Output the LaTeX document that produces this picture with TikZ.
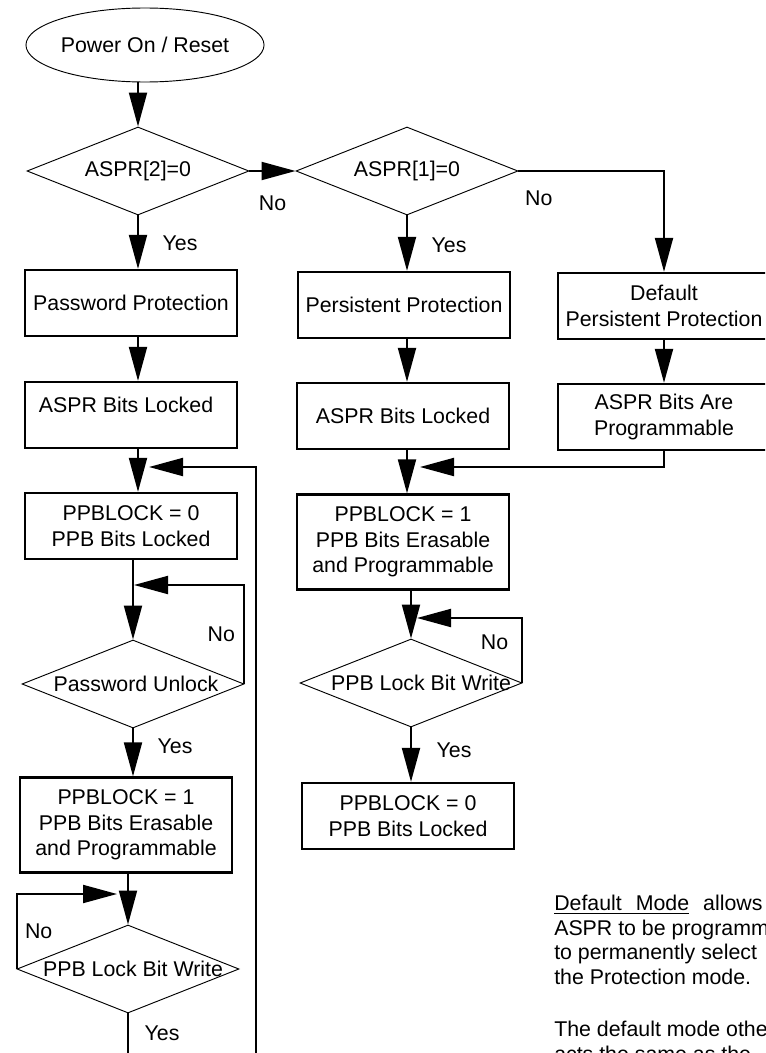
\documentclass[tikz,border=0pt]{standalone}
\usepackage{fontspec}
\setmainfont{Liberation Sans}
\usetikzlibrary{arrows.meta}
\usetikzlibrary{shapes.geometric}

\begin{document}
\begin{tikzpicture}[x=0.75pt,y=-0.75pt,font=\fontsize{16}{19}\selectfont,
    box/.style={draw, line width=1.7pt, minimum width=159pt, minimum height=49.5pt, inner sep=0pt, align=center},
    tall/.style={box, minimum height=71.25pt},
    dec/.style={draw, diamond, line width=0.7pt, minimum width=166.5pt, minimum height=66pt, inner sep=0pt},
    wire/.style={line width=1.5pt},
    arr/.style={wire, -{Triangle[length=25.5pt,width=13.5pt]}},
    lbl/.style={inner sep=0pt}]
    \useasboundingbox (0,0) rectangle (765,1053);
    \clip (0,0) rectangle (765,1053);

    % start and first decisions
    \node[draw, ellipse, line width=0.7pt, minimum width=170pt, minimum height=55.5pt, inner sep=0pt] (start) at (145,45) {Power On / Reset};
    \node[dec, label={center:{ASPR[2]=0}}] (asprtwo) at (138,171) {};
    \node[dec, label={center:{ASPR[1]=0}}] (asprone) at (407,171) {};

    % three modes
    \node[box] (pwd) at (131,303) {Password Protection};
    \node[box] (pers) at (404,305) {Persistent Protection};
    \node[box] (dflt) at (664,306) {Default\\Persistent Protection};
    \node[box, label={[xshift=-3.75pt,yshift=7.5pt]center:ASPR Bits Locked}] (pwdlock) at (131,415) {};
    \node[box] (perslock) at (403,416) {ASPR Bits Locked};
    \node[box] (dfltprog) at (664,417) {ASPR Bits Are\\Programmable};

    % password column
    \node[box] (pwdoff) at (131,526) {PPBLOCK = 0\\PPB Bits Locked};
    \node[dec, label={[xshift=2.25pt]center:Password Unlock}] (unlock) at (133,684) {};
    \node[tall] (pwdon) at (126,825) {PPBLOCK = 1\\PPB Bits Erasable\\and Programmable};
    \node[dec, label={[xshift=3.75pt]center:PPB Lock Bit Write}] (pwdwrite) at (128,969) {};

    % persistent column
    \node[tall] (person) at (403,542) {PPBLOCK = 1\\PPB Bits Erasable\\and Programmable};
    \node[dec, label={[xshift=7.5pt]center:PPB Lock Bit Write}] (perswrite) at (411,683) {};
    \node[box] (persoff) at (408,816) {PPBLOCK = 0\\PPB Bits Locked};

    % note
    \node[anchor=north west, align=left, inner sep=0pt, font=\fontsize{16}{18.4}\selectfont] (note) at (554,895)
        {\underline{Default\hspace{10.5pt}Mode}\hspace{10.5pt}allows\\
         ASPR to be programm\\
         to permanently select\\
         the Protection mode.\\[21pt]
         The default mode othe\\
         acts the same as the};

    \coordinate (mergea) at (149,467);
    \coordinate (mergeb) at (420,467);
    \coordinate (backa) at (134,585);
    \coordinate (backb) at (117,894);
    \coordinate (backc) at (417,618);
    \coordinate (exita) at (128,1070);
    \coordinate (loopa) at (256,1070);

    % connectors
    \draw[arr] (start.south -| asprtwo) -- (asprtwo.north);
    \draw[arr] (asprtwo.east) -- node[lbl, below=18pt] {No} (asprone.west);
    \draw[arr] (asprone.east) -| node[lbl, pos=.07, below=14pt] {No} (dflt.north);
    \draw[arr] (asprtwo.south) -- node[lbl, pos=.52, right=17.7pt] {Yes} (asprtwo |- pwd.north);
    \draw[arr] (asprone.south) -- node[lbl, pos=.53, right=17.7pt] {Yes} (asprone |- pers.north);
    \draw[arr] (asprtwo |- pwd.south) -- (asprtwo |- pwdlock.north);
    \draw[arr] (asprone |- pers.south) -- (asprone |- perslock.north);
    \draw[arr] (dflt.south) -- (dfltprog.north);
    \draw[arr] (asprtwo |- pwdlock.south) -- (asprtwo |- pwdoff.north);
    \draw[arr] (asprone |- perslock.south) -- (asprone |- person.north);
    \draw[arr] (dfltprog.south) |- (mergeb);
    \draw[arr] (loopa) |- (mergea);

    \draw[arr] (unlock.north |- pwdoff.south) -- (unlock.north);
    \draw[arr] (unlock.east) |- node[lbl, pos=.25, left=6.4pt] {No} (backa);
    \draw[arr] (unlock.south) -- node[lbl, pos=.38, right=17.7pt] {Yes} (unlock.south |- pwdon.north);
    \draw[arr] (pwdwrite.north |- pwdon.south) -- (pwdwrite.north);
    \draw[arr] (pwdwrite.west) |- node[lbl, pos=.25, right=5.6pt] {No} (backb);
    \draw[wire] (pwdwrite.south) -- node[lbl, pos=.35, right=11.7pt] {Yes} (exita);

    \draw[arr] (perswrite.north |- person.south) -- (perswrite.north);
    \draw[arr] (perswrite.east) |- node[lbl, pos=.31, left=10pt] {No} (backc);
    \draw[arr] (perswrite.south) -- node[lbl, pos=.41, right=18.5pt] {Yes} (perswrite.south |- persoff.north);
\end{tikzpicture}
\end{document}
